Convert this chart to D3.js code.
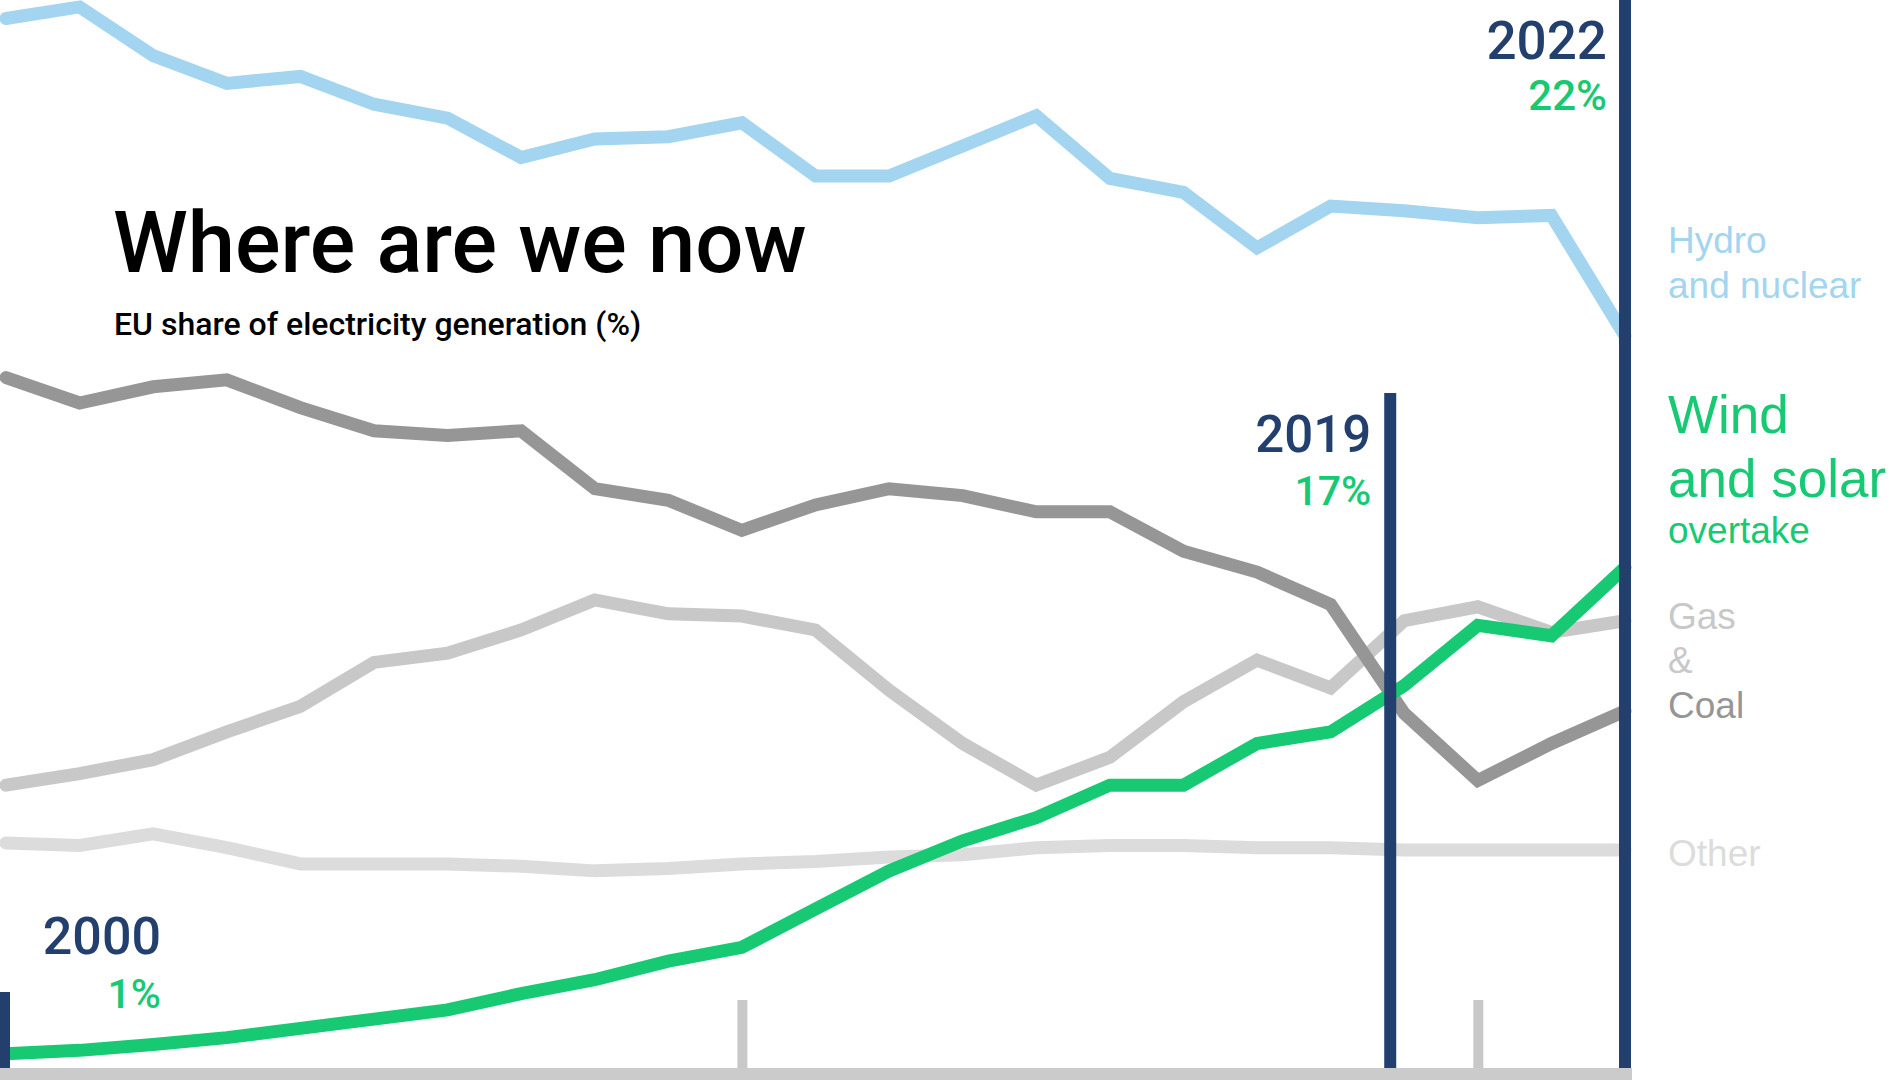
<!DOCTYPE html>
<html><head><meta charset="utf-8">
<script src="https://cdn.jsdelivr.net/npm/d3@7/dist/d3.min.js"></script>
<style>
html,body{margin:0;padding:0;background:#fff;overflow:hidden}
svg{display:block}
</style></head>
<body>
<svg id="chart" width="1895" height="1080"></svg>
<script>
// ---------- DATA (EU share of electricity generation, %) ----------
const years = [2000,2001,2002,2003,2004,2005,2006,2007,2008,2009,2010,2011,2012,2013,2014,2015,2016,2017,2018,2019,2020,2021,2022];
const hydroNuclear = [45.7,46.2,44.1,42.9,43.2,42.0,41.4,39.7,40.5,40.6,41.2,38.9,38.9,40.2,41.5,38.8,38.2,35.8,37.6,37.4,37.1,37.2,32.0];
const coal        = [30.2,29.1,29.8,30.1,28.9,27.9,27.7,27.9,25.4,24.9,23.6,24.7,25.4,25.1,24.4,24.4,22.7,21.8,20.4,15.7,12.8,14.4,15.8];
const gas         = [12.6,13.1,13.7,14.9,16.0,17.9,18.3,19.3,20.6,20.0,19.9,19.3,16.7,14.4,12.6,13.8,16.2,18.0,16.8,19.7,20.3,19.2,19.7];
const other       = [10.1,10.0,10.5,9.9,9.2,9.2,9.2,9.1,8.9,9.0,9.2,9.3,9.5,9.6,9.9,10.0,10.0,9.9,9.9,9.8,9.8,9.8,9.8];
const windSolar   = [1.0,1.15,1.4,1.7,2.1,2.5,2.9,3.6,4.2,5.0,5.6,7.25,8.9,10.2,11.2,12.6,12.6,14.4,14.9,16.9,19.5,19.05,22.0];

const seriesKeys   = ["other","gas","coal","hydro","wind"];
const seriesValues = {other: other, gas: gas, coal: coal, hydro: hydroNuclear, wind: windSolar};

const markerYears  = [2000, 2019, 2022];
const markerYearLabels  = ["2000", "2019", "2022"];
const markerShareLabels = ["1%", "17%", "22%"];
const tickYears = [2010, 2020];

const title = "Where are we now";
const subtitle = "EU share of electricity generation (%)";

// ---------- STYLE ----------
const colors = {
  hydro: "#a3d5f0", coal: "#969696", gas: "#c8c8c8", other: "#dcdcdc",
  wind: "#17c973", navy: "#223f6e", axis: "#cbcbcb"
};
const svg = d3.select("#chart");

const x = d3.scaleLinear().domain([2000, 2022]).range([6, 1625]);
const y = d3.scaleLinear().domain([0, 46.5]).range([1077, 0]);

// axis baseline and ticks
const axisY = 1068;
svg.append("rect").attr("x", 0).attr("y", axisY).attr("width", x(2022) + 7).attr("height", 12)
  .attr("fill", colors.axis);
const axis = d3.axisTop(x).tickValues(tickYears).tickSize(68).tickSizeOuter(0).tickFormat("");
const gAxis = svg.append("g").attr("transform", `translate(0,${axisY})`).call(axis);
gAxis.select(".domain").remove();
gAxis.selectAll(".tick line").attr("stroke", "#c8c8c8").attr("stroke-width", 10);

// lines
const line = d3.line().x((d, i) => x(years[i])).y(d => y(d));
svg.append("g").selectAll("path").data(seriesKeys).join("path")
  .attr("d", k => line(seriesValues[k]))
  .attr("fill", "none")
  .attr("stroke", k => colors[k])
  .attr("stroke-width", 13)
  .attr("stroke-linecap", "round")
  .attr("stroke-linejoin", "miter");

// marker lines
const markerTops = [992, 393, 0];
const markerOffsets = [-2, -14, 0];
svg.append("g").selectAll("line").data(markerYears).join("line")
  .attr("x1", (d, i) => x(d) + markerOffsets[i]).attr("x2", (d, i) => x(d) + markerOffsets[i])
  .attr("y1", (d, i) => markerTops[i]).attr("y2", axisY)
  .attr("stroke", colors.navy).attr("stroke-width", 12);

// marker labels
const labelRight = [161, x(2019) - 14 - 19, x(2022) - 18];
const yearBase = [954, 452, 59];
const shareBase = [1008, 505, 110];
const yearSize = [52, 51, 53];
const shareSize = [41, 41, 42];
const gLab = svg.append("g").attr("font-family", "Roboto, sans-serif").attr("text-anchor", "end");
markerYears.forEach((yr, i) => {
  gLab.append("text").attr("x", labelRight[i]).attr("y", yearBase[i])
    .attr("font-size", yearSize[i]).attr("font-weight", 500).attr("fill", colors.navy)
    .text(markerYearLabels[i]);
  gLab.append("text").attr("x", labelRight[i]).attr("y", shareBase[i])
    .attr("font-size", shareSize[i]).attr("font-weight", 500).attr("fill", colors.wind)
    .text(markerShareLabels[i]);
});

// title
svg.append("text").attr("x", 113).attr("y", 272)
  .attr("font-family", "Roboto, sans-serif").attr("font-weight", 500).attr("font-size", 85)
  .attr("fill", "#000").text(title);
svg.append("text").attr("x", 114).attr("y", 335)
  .attr("font-family", "Roboto, sans-serif").attr("font-weight", 500).attr("font-size", 32)
  .attr("fill", "#000").text(subtitle);

// right-side series labels
const legendX = 1668;
const legendItems = [
  {text: "Hydro", y: 253, size: 37, color: colors.hydro},
  {text: "and nuclear", y: 298, size: 37, color: colors.hydro},
  {text: "Wind", y: 433, size: 53, color: colors.wind},
  {text: "and solar", y: 497, size: 53, color: colors.wind},
  {text: "overtake", y: 543, size: 37, color: colors.wind},
  {text: "Gas", y: 629, size: 37, color: colors.gas},
  {text: "&", y: 673, size: 37, color: colors.gas},
  {text: "Coal", y: 718, size: 37, color: colors.coal},
  {text: "Other", y: 866, size: 37, color: colors.other}
];
svg.append("g").attr("font-family", "'Liberation Sans', Arial, sans-serif")
  .selectAll("text").data(legendItems).join("text")
  .attr("x", legendX).attr("y", d => d.y).attr("font-size", d => d.size)
  .attr("fill", d => d.color).text(d => d.text);
</script>
</body></html>
